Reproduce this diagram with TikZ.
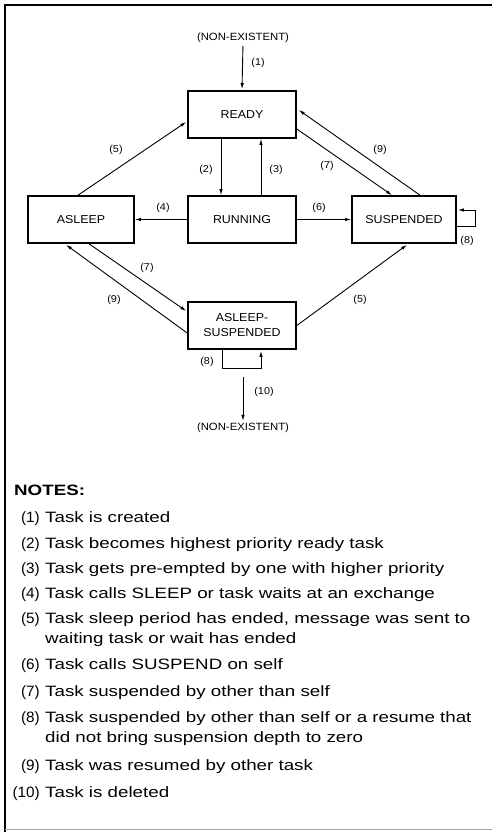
\documentclass[tikz,border=0pt]{standalone}
\usepackage{fontspec}
\setmainfont{Liberation Sans}
\newfontfamily\diagfont[FakeStretch=1.08]{Liberation Sans}
\newfontfamily\notefont[FakeStretch=1.25]{Liberation Sans}
\newfontfamily\numfont[FakeStretch=1.02]{Liberation Sans}
\usetikzlibrary{arrows.meta,calc}
\begin{document}
\begin{tikzpicture}[x=1pt,y=-1pt,
  state/.style={draw, line width=1.6pt, minimum width=108pt, minimum height=47pt, inner sep=0pt,
    font=\diagfont\fontsize{11.5}{15}\selectfont, align=center},
  conn/.style={line width=0.9pt, -{Latex[length=6pt,width=3.4pt]}},
  lbl/.style={font=\diagfont\fontsize{10}{12}\selectfont, inner sep=0pt},
  nonex/.style={font=\diagfont\fontsize{10.5}{12}\selectfont, inner sep=0pt},
  nnum/.style={anchor=base east, inner sep=0pt, font=\numfont\fontsize{15}{18}\selectfont},
  ntext/.style={anchor=base west, inner sep=0pt, font=\notefont\fontsize{15}{18}\selectfont},
  frame/.style={line width=2.4pt}]
\useasboundingbox (0,0) rectangle (492,832);
% frame
\draw[frame] (5,832) -- (5,5) -- (492,5);
\draw[line width=0.8pt, black!35] (5,829) -- (492,829);

% states
\node[state] (ready) at (242,114.5) {READY};
\node[state] (running) at (242,219.5) {RUNNING};
\node[state, minimum width=106pt] (asleep) at (81,219.5) {ASLEEP};
\node[state, minimum width=104pt] (susp) at (404,219.5) {SUSPENDED};
\node[state] (aslsus) at (242,325.5) {ASLEEP-\\SUSPENDED};

\node[nonex] (ne1) at (243,38) {(NON-EXISTENT)};
\node[nonex] (ne2) at (243,428) {(NON-EXISTENT)};
\coordinate (c10) at (243,377);

% connectors
\draw[conn, shorten <=3pt, shorten >=1pt] (ne1.south) -- (ready.north);
\draw[conn] ([xshift=-21pt]ready.south) -- ([xshift=-21pt]running.north);
\draw[conn] ([xshift=19pt]running.north) -- ([xshift=19pt]ready.south);
\draw[conn] (running.west) -- (asleep.east);
\draw[conn] (running.east) -- (susp.west);
\draw[conn] ([xshift=-3pt]asleep.north) -- ([yshift=-7.5pt,xshift=-1pt]ready.west);
\draw[conn] ([yshift=-14.5pt]ready.east) -- ([xshift=-12pt]susp.north);
\draw[conn] ([xshift=16pt]susp.north) -- ([yshift=4.5pt,xshift=2pt]ready.east);
\draw[conn] ([xshift=8pt]asleep.south) -- ([yshift=14.5pt,xshift=-1pt]aslsus.west);
\draw[conn] ([yshift=-7.5pt]aslsus.west) -- ([xshift=-15pt,yshift=-1pt]asleep.south);
\draw[conn] (aslsus.east) -- ([xshift=3pt,yshift=-1pt]susp.south);
\draw[conn] ([yshift=-6.5pt]susp.east) -- ++(19,0) |- ([yshift=9.5pt,xshift=1pt]susp.east);
\draw[conn] ([xshift=-20pt]aslsus.south) -- ++(0,19) -| ([xshift=19pt,yshift=-1pt]aslsus.south);
\draw[conn, shorten >=2pt] (c10) -- (ne2.north);

% labels
\node[lbl] (l1) at (258,63) {(1)};
\node[lbl] (l2) at (206,170) {(2)};
\node[lbl] (l3) at (276,170) {(3)};
\node[lbl] (l4) at (163,208) {(4)};
\node[lbl] (l6) at (319,208) {(6)};
\node[lbl] (l5a) at (116,150) {(5)};
\node[lbl] (l7a) at (327,166) {(7)};
\node[lbl] (l9a) at (380,150) {(9)};
\node[lbl] (l8a) at (467,241) {(8)};
\node[lbl] (l7b) at (147,268) {(7)};
\node[lbl] (l9b) at (114,300) {(9)};
\node[lbl] (l5b) at (360,300) {(5)};
\node[lbl] (l8b) at (207,362) {(8)};
\node[lbl] (l10) at (264,392) {(10)};

% notes
\node[anchor=base west, inner sep=0pt, font=\notefont\fontsize{15}{18}\selectfont\bfseries] (notes) at (14,495) {NOTES:};
\node[nnum] (n1) at (40,522) {(1)};  \node[ntext] (t1) at (45,522) {Task is created};
\node[nnum] (n2) at (40,548) {(2)};  \node[ntext] (t2) at (45,548) {Task becomes highest priority ready task};
\node[nnum] (n3) at (40,573) {(3)};  \node[ntext] (t3) at (45,573) {Task gets pre-empted by one with higher priority};
\node[nnum] (n4) at (40,598) {(4)};  \node[ntext] (t4) at (45,598) {Task calls SLEEP or task waits at an exchange};
\node[nnum] (n5) at (40,623) {(5)};  \node[ntext] (t5) at (45,623) {Task sleep period has ended, message was sent to};
\node[ntext] (t5b) at (45,643) {waiting task or wait has ended};
\node[nnum] (n6) at (40,669) {(6)};  \node[ntext] (t6) at (45,669) {Task calls SUSPEND on self};
\node[nnum] (n7) at (40,696) {(7)};  \node[ntext] (t7) at (45,696) {Task suspended by other than self};
\node[nnum] (n8) at (40,722) {(8)};  \node[ntext] (t8) at (45,722) {Task suspended by other than self or a resume that};
\node[ntext] (t8b) at (45,742) {did not bring suspension depth to zero};
\node[nnum] (n9) at (40,770) {(9)};  \node[ntext] (t9) at (45,770) {Task was resumed by other task};
\node[nnum] (n10) at (40,797) {(10)}; \node[ntext] (t10) at (45,797) {Task is deleted};
\end{tikzpicture}
\end{document}
